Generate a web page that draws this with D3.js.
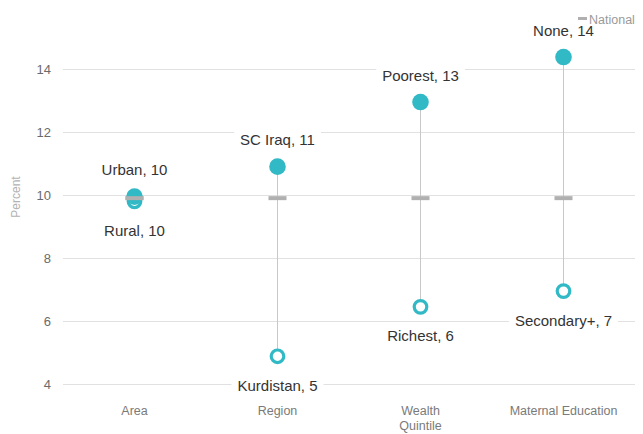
<!DOCTYPE html>
<html>
<head>
<meta charset="utf-8">
<script src="https://cdn.jsdelivr.net/npm/d3@7/dist/d3.min.js"></script>
<style>
  html, body { margin: 0; padding: 0; background: #fff; }
  svg { display: block; font-family: "Liberation Sans", Arial, sans-serif; }
</style>
</head>
<body>
<svg id="chart" width="643" height="434"></svg>
<script>
// Dimension groups along the x axis (multi-line names split on "\n")
const groups = ["Area", "Region", "Wealth\nQuintile", "Maternal Education"];
// Higher group (filled dot) and lower group (open dot) per dimension
const highLabels = ["Urban", "SC Iraq", "Poorest", "None"];
const highValues = [9.95, 10.9, 12.95, 14.38];
const lowLabels = ["Rural", "Kurdistan", "Richest", "Secondary+"];
const lowValues = [9.8, 4.88, 6.45, 6.95];
// National average, same for every dimension
const nationalValues = [9.9, 9.9, 9.9, 9.9];
const yTicks = [4, 6, 8, 10, 12, 14];

const teal = "#31b9c5";
const svg = d3.select("#chart");

const x = d3.scaleBand().domain(groups).range([63, 635]);
const y = d3.scaleLinear().domain([4, 14]).range([384, 69]);
const cx = g => x(g) + x.bandwidth() / 2;

// Horizontal gridlines and tick labels
const yAxis = d3.axisLeft(y).tickValues(yTicks).tickSize(-(635 - 63)).tickPadding(12);
const yg = svg.append("g").attr("transform", "translate(63,0)").call(yAxis);
yg.select(".domain").remove();
yg.selectAll(".tick line").attr("stroke", "#e1e1e1").attr("stroke-width", 1.2);
yg.selectAll(".tick text").attr("fill", "#6b6b6b").attr("font-size", 13);

// Axis title
svg.append("text")
  .attr("transform", "translate(20,197) rotate(-90)")
  .attr("text-anchor", "middle")
  .attr("fill", "#b3b3b3")
  .attr("font-size", 12)
  .text("Percent");

// Group names under the plot
const xg = svg.append("g").selectAll("text").data(groups).join("text")
  .attr("x", d => cx(d))
  .attr("y", 415)
  .attr("text-anchor", "middle")
  .attr("fill", "#7a7a7a")
  .attr("font-size", 12.5);
xg.selectAll("tspan").data(d => d.split("\n").map(s => ({s, g: d}))).join("tspan")
  .attr("x", d => cx(d.g))
  .attr("dy", (d, i) => i === 0 ? 0 : 15)
  .text(d => d.s);

const rows = groups.map((g, i) => ({
  g, hi: highValues[i], lo: lowValues[i], nat: nationalValues[i],
  hiLabel: highLabels[i], loLabel: lowLabels[i]
}));

// Connector between the two dots
svg.append("g").selectAll("line").data(rows).join("line")
  .attr("x1", d => cx(d.g)).attr("x2", d => cx(d.g))
  .attr("y1", d => y(d.hi)).attr("y2", d => y(d.lo))
  .attr("stroke", "#c8c8c8").attr("stroke-width", 1);

// National marker
svg.append("g").selectAll("rect").data(rows).join("rect")
  .attr("x", d => cx(d.g) - 9).attr("y", d => y(d.nat) - 2)
  .attr("width", 18).attr("height", 4)
  .attr("fill", "#b0b0b0");

// Open dots (lower group)
svg.append("g").selectAll("circle").data(rows).join("circle")
  .attr("cx", d => cx(d.g)).attr("cy", d => y(d.lo))
  .attr("r", 6.3)
  .attr("fill", "#fff").attr("stroke", teal).attr("stroke-width", 3.2);

// Filled dots (higher group)
svg.append("g").selectAll("circle").data(rows).join("circle")
  .attr("cx", d => cx(d.g)).attr("cy", d => y(d.hi))
  .attr("r", 8.3)
  .attr("fill", teal);

// National marker on top of the Area dots
svg.append("g").selectAll("rect").data(rows.filter(d => Math.abs(y(d.hi) - y(d.nat)) < 10)).join("rect")
  .attr("x", d => cx(d.g) - 9).attr("y", d => y(d.nat) - 2)
  .attr("width", 18).attr("height", 4)
  .attr("fill", "#b0b0b0");

// Value labels with white backing
function addLabel(xp, yp, txt) {
  const gEl = svg.append("g");
  const t = gEl.append("text")
    .attr("x", xp).attr("y", yp)
    .attr("text-anchor", "middle")
    .attr("dominant-baseline", "central")
    .attr("fill", "#333")
    .attr("font-size", 15)
    .text(txt);
  const bb = t.node().getBBox();
  gEl.insert("rect", "text")
    .attr("x", bb.x - 6).attr("y", bb.y - 1)
    .attr("width", bb.width + 12).attr("height", bb.height + 2)
    .attr("fill", "#fff");
}
rows.forEach(d => {
  addLabel(cx(d.g), y(d.hi) - 27, `${d.hiLabel}, ${Math.round(d.hi)}`);
  addLabel(cx(d.g), y(d.lo) + 29, `${d.loLabel}, ${Math.round(d.lo)}`);
});

// Legend
svg.append("rect").attr("x", 578).attr("y", 17).attr("width", 9).attr("height", 3).attr("fill", "#b0b0b0");
svg.append("text").attr("x", 589).attr("y", 24)
  .attr("fill", "#9a9a9a").attr("font-size", 12.5).text("National");
</script>
</body>
</html>
